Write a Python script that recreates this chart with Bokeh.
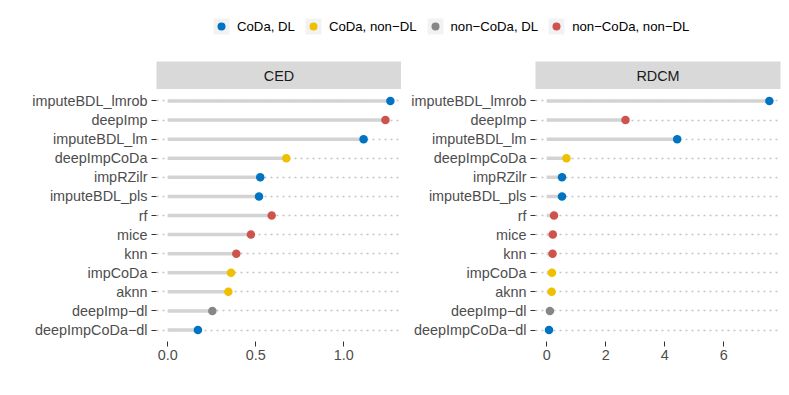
from bokeh.plotting import figure
from bokeh.layouts import column, row
from bokeh.models import Range1d, FixedTicker, ColumnDataSource, Legend, LegendItem
from bokeh.core.properties import value
from bokeh.embed import file_html
from bokeh.resources import INLINE

methods = ["imputeBDL_lmrob", "deepImp", "imputeBDL_lm", "deepImpCoDa", "impRZilr",
           "imputeBDL_pls", "rf", "mice", "knn", "impCoDa", "aknn", "deepImp\u2212dl", "deepImpCoDa\u2212dl"]
group_names = ["CoDa, DL", "CoDa, non\u2212DL", "non\u2212CoDa, DL", "non\u2212CoDa, non\u2212DL"]
group_colors = ["#0073C2", "#EFC000", "#868686", "#CD534C"]
groups = [group_names[i] for i in [0, 3, 0, 1, 0, 0, 3, 3, 3, 1, 1, 2, 0]]
ced = [1.265, 1.237, 1.113, 0.674, 0.526, 0.519, 0.591, 0.473, 0.390, 0.360, 0.345, 0.254, 0.172]
rdcm = [7.54, 2.67, 4.42, 0.67, 0.52, 0.52, 0.25, 0.21, 0.20, 0.18, 0.17, 0.11, 0.08]
panels = ["CED", "RDCM"]
ced_ticks = [0, 0.5, 1.0]
ced_tick_labels = ["0.0", "0.5", "1.0"]
rdcm_ticks = [0, 2, 4, 6]
rdcm_tick_labels = ["0", "2", "4", "6"]

FONT = "Liberation Sans"
FSIZE = "14.4px"
FRAME_W = 245
FRAME_H = 252
cmap = dict(zip(group_names, group_colors))


def panel(vals, ticks, tick_labels, bl, br):
    n = len(methods)
    ys = [n - i for i in range(n)]
    src = ColumnDataSource(dict(y=ys, v=vals, zero=[0] * n,
                                color=[cmap[g] for g in groups]))
    vmax = max(vals)
    p = figure(frame_width=FRAME_W, frame_height=FRAME_H,
               x_range=Range1d(-0.05 * vmax, 1.05 * vmax),
               y_range=Range1d(0.4, n + 0.6),
               output_backend="svg", toolbar_location=None,
               min_border_left=bl, min_border_right=br,
               min_border_top=0, min_border_bottom=30,
               outline_line_color=None, background_fill_color="white",
               border_fill_color="white")
    p.xgrid.visible = False
    p.ygrid.ticker = FixedTicker(ticks=ys)
    p.ygrid.grid_line_color = "#c4c4c4"
    p.ygrid.grid_line_dash = "2 4"
    p.ygrid.grid_line_width = 1.5

    p.segment(x0="zero", y0="y", x1="v", y1="y", source=src,
              line_color="#d3d3d3", line_width=3.5)
    p.scatter("v", "y", source=src, size=8.5, fill_color="color", line_color=None)

    p.xaxis.ticker = FixedTicker(ticks=ticks)
    p.xaxis.major_label_overrides = {t: l for t, l in zip(ticks, tick_labels)}
    p.yaxis.ticker = FixedTicker(ticks=ys)
    p.yaxis.major_label_overrides = {y: m for y, m in zip(ys, methods)}
    for ax in (p.xaxis, p.yaxis):
        ax.axis_line_color = None
        ax.major_tick_line_color = "#333333"
        ax.major_tick_out = 5
        ax.major_tick_in = 0
        ax.minor_tick_line_color = None
        ax.major_label_text_font = FONT
        ax.major_label_text_font_size = FSIZE
        ax.major_label_text_color = "#4d4d4d"
    p.xaxis.major_label_standoff = 3
    p.yaxis.major_label_standoff = 4
    return p


def strip(name, bl, br):
    s = figure(frame_width=FRAME_W, frame_height=28,
               x_range=Range1d(0, 1), y_range=Range1d(0, 1),
               x_axis_location=None, y_axis_location=None,
               min_border_left=bl, min_border_right=br,
               min_border_top=0, min_border_bottom=0,
               background_fill_color="#d9d9d9", outline_line_color=None,
               border_fill_color="white",
               output_backend="svg", toolbar_location=None)
    s.grid.visible = False
    s.text(x=[0.5], y=[0.5], text=[name], text_align="center",
           text_baseline="middle", text_font=value(FONT), text_font_size=FSIZE,
           text_color="#1a1a1a")
    return s


# legend figure (dummy renderers sit outside the visible range; only their legend glyphs show)
lf = figure(frame_width=781, frame_height=61, x_range=Range1d(0, 1), y_range=Range1d(0, 1),
            x_axis_location=None, y_axis_location=None,
            min_border_left=0, min_border_right=0, min_border_top=0, min_border_bottom=0,
            outline_line_color=None, output_backend="svg", toolbar_location=None)
lf.grid.visible = False
items = []
for g, c in zip(group_names, group_colors):
    bg = lf.rect(x=[-5], y=[-5], width=1, height=1, fill_color="#f2f2f2", line_color=None)
    dot = lf.scatter(x=[-5], y=[-5], size=8, fill_color=c, line_color=None)
    items.append(LegendItem(label=g, renderers=[bg, dot]))
leg = Legend(items=items, orientation="horizontal", location=(211, 25),
             glyph_width=20, glyph_height=20, label_height=20, label_standoff=6,
             spacing=8, padding=0, margin=0, border_line_color=None,
             background_fill_alpha=0, label_text_font=FONT,
             label_text_font_size="13.2px", label_text_color="#000000",
             label_text_baseline="middle")
lf.add_layout(leg)

p1 = panel(ced, ced_ticks, ced_tick_labels, 156, 0)
p2 = panel(rdcm, rdcm_ticks, rdcm_tick_labels, 134, 1)
s1 = strip(panels[0], 156, 0)
s2 = strip(panels[1], 134, 1)

layout = column(lf, row(column(s1, p1), column(s2, p2)))
open("out.html", "w").write(file_html(layout, INLINE))
